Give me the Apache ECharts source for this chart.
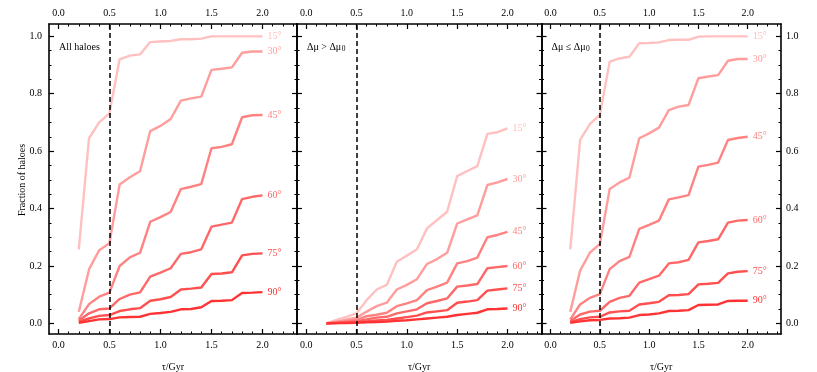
<!DOCTYPE html>
<html><head><meta charset="utf-8">
<script src="https://cdn.jsdelivr.net/npm/echarts@6/dist/echarts.min.js"></script>
<style>html,body{margin:0;padding:0;background:#fff}#c{width:817px;height:372px}</style>
</head><body><div id="c"></div>
<script>
const tau = [0.2,0.3,0.4,0.5,0.6,0.7,0.8,0.9,1.0,1.1,1.2,1.3,1.4,1.5,1.6,1.7,1.8,1.9,2.0];
const angles = ['15°','30°','45°','60°','75°','90°'];
const xTicks = [0.0,0.5,1.0,1.5,2.0];
const yTicks = [0.0,0.2,0.4,0.6,0.8,1.0];
const panelTitles = ['{a|All haloes}','{a|Δμ > Δμ}{s|0}','{a|Δμ ≤ Δμ}{s|0}'];
const tauCut = 0.5;

// Panel 1: all haloes
const all15 = [0.258,0.645,0.70,0.732,0.92,0.933,0.937,0.98,0.982,0.984,0.99,0.99,0.992,1.0,1.0,1.0,1.0,1.0,1.0];
const all30 = [0.04,0.188,0.255,0.279,0.484,0.509,0.53,0.67,0.688,0.712,0.776,0.784,0.79,0.883,0.887,0.892,0.943,0.947,0.947];
const all45 = [0.015,0.067,0.093,0.107,0.2,0.23,0.246,0.354,0.37,0.388,0.468,0.476,0.485,0.61,0.615,0.624,0.718,0.725,0.726];
const all60 = [0.009,0.035,0.049,0.052,0.085,0.1,0.108,0.163,0.177,0.192,0.242,0.248,0.258,0.337,0.344,0.351,0.433,0.441,0.446];
const all75 = [0.005,0.017,0.026,0.029,0.043,0.049,0.053,0.079,0.084,0.092,0.118,0.121,0.125,0.172,0.174,0.178,0.237,0.242,0.244];
const all90 = [0.002,0.008,0.014,0.015,0.021,0.022,0.023,0.033,0.036,0.04,0.049,0.05,0.056,0.078,0.079,0.081,0.106,0.107,0.109];

// Panel 2: Δμ > Δμ0
const hi15 = [0,0.012,0.023,0.035,0.081,0.118,0.134,0.215,0.236,0.258,0.331,0.36,0.389,0.513,0.531,0.548,0.66,0.666,0.679];
const hi30 = [0,0.006,0.013,0.02,0.041,0.06,0.072,0.118,0.134,0.154,0.207,0.224,0.246,0.348,0.362,0.376,0.482,0.491,0.503];
const hi45 = [0,0.004,0.008,0.012,0.025,0.03,0.037,0.06,0.07,0.081,0.116,0.128,0.142,0.209,0.217,0.229,0.3,0.308,0.319];
const hi60 = [0,0.002,0.005,0.007,0.014,0.02,0.023,0.035,0.042,0.049,0.07,0.078,0.087,0.128,0.132,0.137,0.192,0.196,0.2];
const hi75 = [0,0.001,0.003,0.004,0.007,0.01,0.012,0.017,0.022,0.027,0.038,0.042,0.046,0.072,0.076,0.081,0.114,0.118,0.122];
const hi90 = [0,0.001,0.001,0.002,0.004,0.005,0.006,0.009,0.011,0.014,0.017,0.02,0.023,0.029,0.033,0.037,0.049,0.05,0.052];

// Panel 3: Δμ ≤ Δμ0
const lo15 = [0.258,0.639,0.695,0.726,0.912,0.923,0.929,0.976,0.977,0.979,0.987,0.988,0.988,0.999,1.0,1.0,1.0,1.0,1.0];
const lo30 = [0.04,0.184,0.247,0.276,0.468,0.491,0.508,0.645,0.662,0.682,0.743,0.755,0.761,0.854,0.86,0.865,0.915,0.921,0.921];
const lo45 = [0.014,0.066,0.089,0.102,0.189,0.217,0.232,0.329,0.343,0.358,0.432,0.439,0.447,0.546,0.552,0.56,0.639,0.646,0.65];
const lo60 = [0.008,0.031,0.041,0.044,0.075,0.089,0.096,0.142,0.154,0.166,0.209,0.213,0.221,0.282,0.287,0.293,0.351,0.358,0.36];
const lo75 = [0.004,0.015,0.021,0.023,0.038,0.042,0.044,0.066,0.07,0.075,0.098,0.099,0.102,0.136,0.138,0.141,0.174,0.18,0.182];
const lo90 = [0.002,0.007,0.011,0.012,0.017,0.018,0.02,0.029,0.031,0.035,0.043,0.044,0.046,0.064,0.065,0.066,0.078,0.079,0.079];

const panels = [
  [all15,all30,all45,all60,all75,all90],
  [hi15,hi30,hi45,hi60,hi75,hi90],
  [lo15,lo30,lo45,lo60,lo75,lo90]
];
const colors = ['#ffc0c0','#ff9d9d','#ff8282','#ff6868','#ff4f4f','#ff3333'];
const FONT = '"Liberation Serif","DejaVu Serif",serif';

const gridBoxes = [
  {left:49, top:24, width:248, height:310},
  {left:297, top:24, width:244.5, height:310},
  {left:541.5, top:24, width:239.5, height:310}
];
const XMIN=-0.092, XMAX=2.338, YMIN=-0.037, YMAX=1.043;
const minorX = [], minorY = [];
for (let i=0; i<=23; i++) minorX.push(+(i*0.1).toFixed(2));
for (let i=0; i<=20; i++) minorY.push(+(i*0.05).toFixed(2));

const xAxes=[], yAxes=[], series=[], graphics=[];
const axisLine = {show:true, onZero:false, lineStyle:{color:'#000', width:1.6}};
gridBoxes.forEach((g,gi)=>{
  const bx = xAxes.length, by = yAxes.length;
  ['bottom','top'].forEach(pos=>{
    xAxes.push({type:'value', gridIndex:gi, position:pos, min:XMIN, max:XMAX,
      axisLine, splitLine:{show:false},
      axisTick:{show:true, inside:true, length:5, customValues:xTicks, lineStyle:{color:'#000',width:1.2}},
      axisLabel:{show:true, customValues:xTicks, formatter:v=>v.toFixed(1), color:'#000', fontFamily:FONT, fontSize:10, margin:6}});
  });
  ['bottom','top'].forEach(pos=>{
    xAxes.push({type:'value', gridIndex:gi, position:pos, min:XMIN, max:XMAX,
      axisLine:{show:false, onZero:false}, splitLine:{show:false}, axisLabel:{show:false},
      axisTick:{show:true, inside:true, length:2.5, customValues:minorX, lineStyle:{color:'#000',width:1}}});
  });
  ['left','right'].forEach(pos=>{
    const showLab = (gi===0 && pos==='left') || (gi===2 && pos==='right');
    yAxes.push({type:'value', gridIndex:gi, position:pos, min:YMIN, max:YMAX,
      axisLine, splitLine:{show:false},
      axisTick:{show:true, inside:true, length:5, customValues:yTicks, lineStyle:{color:'#000',width:1.2}},
      axisLabel:{show:showLab, customValues:yTicks, formatter:v=>v.toFixed(1), color:'#000', fontFamily:FONT, fontSize:10, margin: pos==='left'?7:5}});
  });
  ['left','right'].forEach(pos=>{
    yAxes.push({type:'value', gridIndex:gi, position:pos, min:YMIN, max:YMAX,
      axisLine:{show:false, onZero:false}, splitLine:{show:false}, axisLabel:{show:false},
      axisTick:{show:true, inside:true, length:2.5, customValues:minorY, lineStyle:{color:'#000',width:1}}});
  });
  panels[gi].forEach((arr,si)=>{
    const s = {type:'line', xAxisIndex:bx, yAxisIndex:by, name:angles[si],
      data: tau.map((t,i)=>[t,arr[i]]), showSymbol:false, symbol:'none',
      lineStyle:{color:colors[si], width:2.4}, itemStyle:{color:colors[si]},
      z: 2+si,
      endLabel:{show:true, formatter:angles[si], color:colors[si], fontFamily:FONT, fontSize:10, distance:5},
      animation:false};
    if (si===0) {
      s.markLine = {silent:true, symbol:'none', label:{show:false},
        lineStyle:{color:'#000', type:[5,3], width:1.5}, z:10,
        data:[{xAxis:tauCut}]};
    }
    series.push(s);
  });
  graphics.push({type:'text', left:g.left+10, top:42, style:{text:panelTitles[gi],
    rich:{a:{fontFamily:FONT, fontSize:10, fill:'#000', lineHeight:13, verticalAlign:'middle'},
          s:{fontFamily:FONT, fontSize:7.5, fill:'#000', lineHeight:13, verticalAlign:'bottom', padding:[3,0,0,0.5]}}}});
  graphics.push({type:'text', x:g.left+g.width/2, y:367, style:{text:'τ/Gyr', fill:'#000', font:'10px '+FONT, align:'center', verticalAlign:'middle'}});
});
graphics.push({type:'text', x:22, y:180, rotation:Math.PI/2, style:{text:'Fraction of haloes', fill:'#000', font:'10px '+FONT, align:'center', verticalAlign:'middle'}});

const chart = echarts.init(document.getElementById('c'), null, {renderer:'canvas'});
chart.setOption({
  animation:false,
  grid: gridBoxes.map(g=>Object.assign({containLabel:false}, g)),
  xAxis: xAxes, yAxis: yAxes, series, graphic: graphics
});
</script></body></html>
